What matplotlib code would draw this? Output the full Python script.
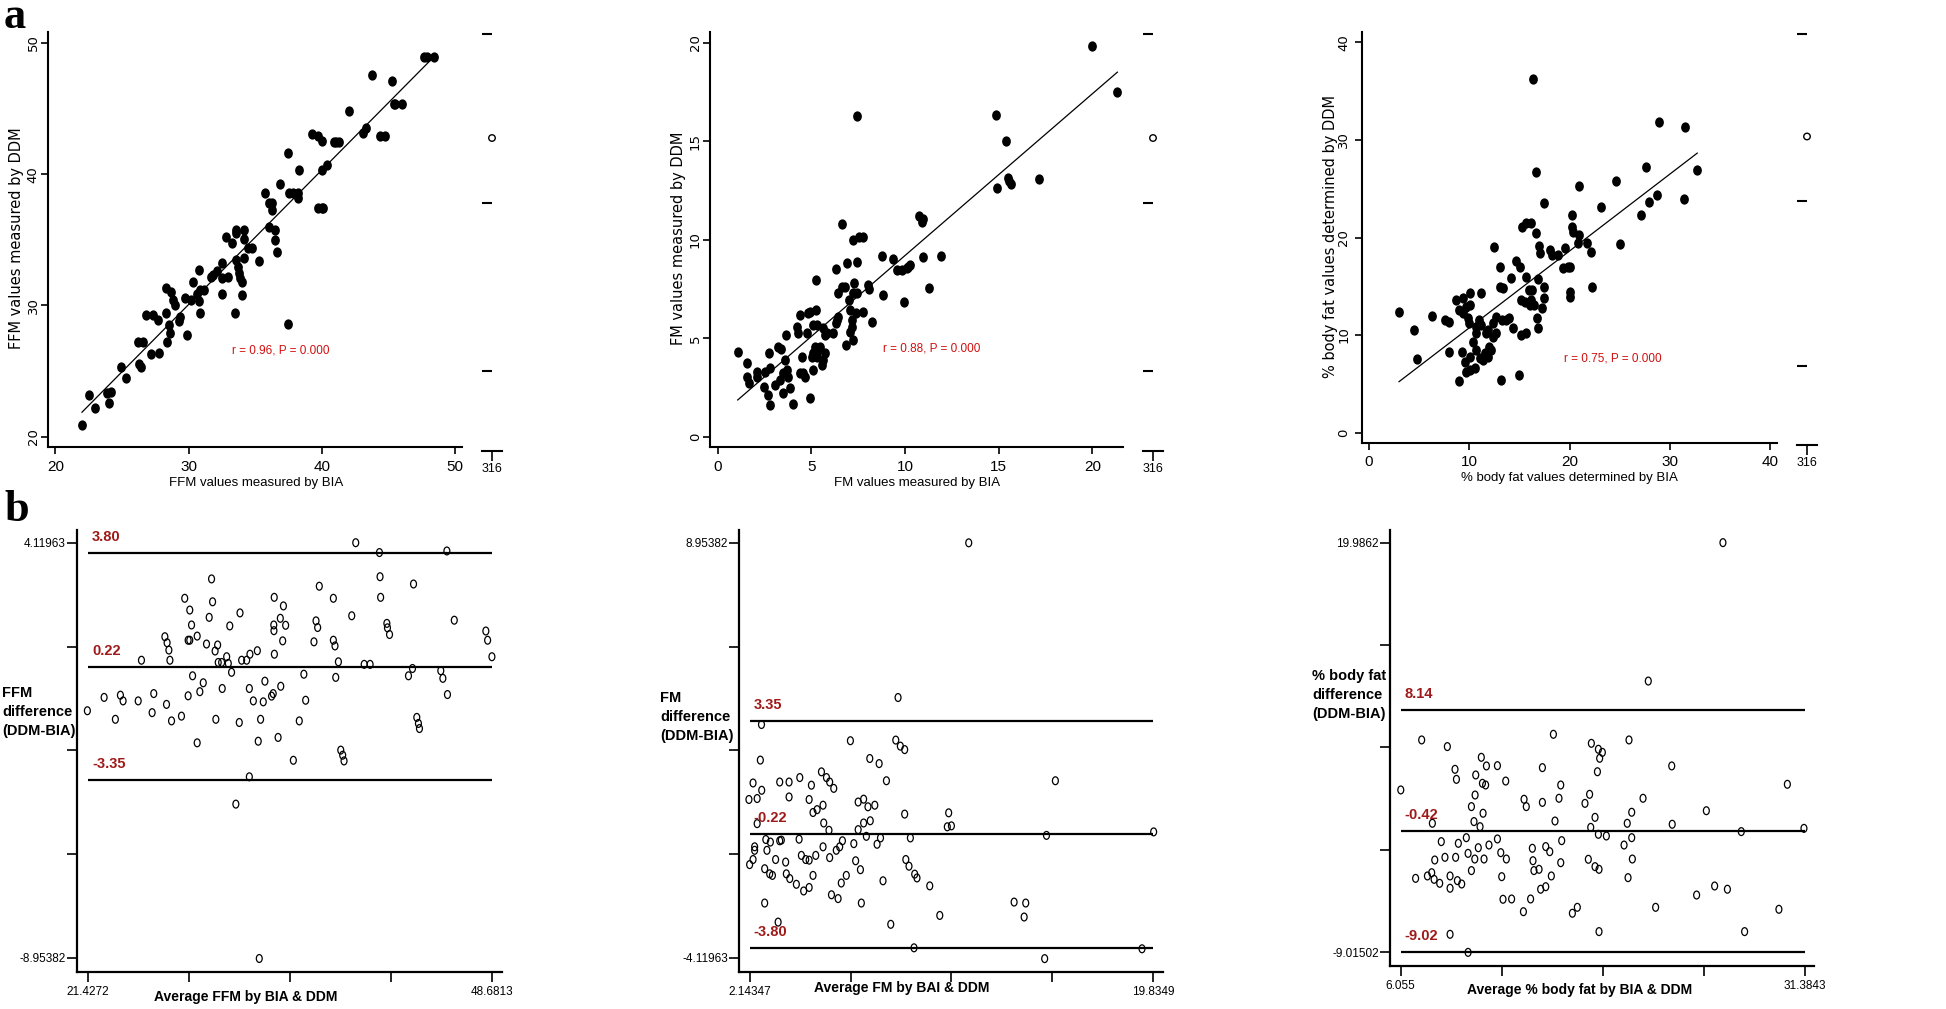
import numpy as np
import matplotlib
matplotlib.use("Agg")
import matplotlib.pyplot as plt
from matplotlib.path import Path
from matplotlib.transforms import Affine2D

# ---------------- Panel a: BIA vs DDM scatter data ----------------
ffm_bia = [22.0, 22.5, 23.0, 23.9, 24.2, 24.0, 24.9, 25.3, 26.2, 26.6,
           26.3, 26.4, 26.8, 27.3, 27.7, 27.2, 27.8, 28.3, 28.7, 28.85,
           29.0, 28.3, 28.5, 28.6, 28.4, 29.35, 29.3, 29.7, 29.9, 30.3,
           30.2, 30.6, 30.8, 30.85, 31.15, 30.8, 30.85, 31.65, 31.85, 32.1,
           32.5, 32.55, 32.55, 33.0, 32.85, 33.3, 33.6, 33.6, 34.15, 34.15,
           33.6, 33.7, 33.8, 33.85, 34.0, 34.0, 33.5, 34.2, 34.5, 34.75,
           35.3, 35.75, 36.05, 36.25, 36.25, 36.05, 36.5, 36.5, 36.65, 36.85,
           37.45, 37.55, 37.85, 38.2, 38.25, 38.3, 37.5, 39.25, 39.75, 40.0,
           40.0, 40.4, 39.75, 40.0, 40.1, 40.9, 41.1, 41.3, 42.05, 43.1,
           43.35, 43.75, 44.4, 44.75, 45.3, 45.4, 45.5, 46.0, 47.65, 47.9, 48.4]
ffm_ddm = [20.9, 23.2, 22.2, 23.3, 23.4, 22.6, 25.3, 24.5, 27.2, 27.2,
           25.5, 25.3, 29.3, 29.3, 28.9, 26.3, 26.35, 31.3, 31.05, 30.4,
           30.0, 29.4, 28.5, 27.9, 27.2, 29.15, 28.8, 30.55, 27.75, 31.8,
           30.4, 30.9, 32.7, 31.2, 31.2, 30.3, 29.4, 32.15, 32.3, 32.6,
           30.9, 32.1, 33.2, 32.2, 35.25, 34.75, 35.75, 35.5, 35.75, 35.1,
           33.5, 32.95, 32.45, 32.1, 31.8, 30.8, 29.4, 33.6, 34.35, 34.35,
           33.35, 38.55, 37.8, 37.8, 37.3, 36.0, 35.75, 35.0, 34.05, 39.25,
           41.6, 38.55, 38.55, 38.55, 38.2, 40.3, 28.6, 43.1, 42.9, 42.5,
           40.3, 40.7, 37.4, 37.4, 37.4, 42.45, 42.45, 42.45, 44.85, 43.15,
           43.5, 47.6, 42.95, 42.95, 47.1, 45.35, 45.35, 45.35, 48.9, 48.9, 48.9]

fm_bia = [1.07, 1.58, 1.58, 1.67, 2.08, 2.12, 2.52, 2.47, 2.70, 2.79,
          2.76, 2.79, 3.06, 3.24, 3.38, 3.59, 3.32, 3.50, 3.68, 3.77,
          3.50, 3.86, 3.63, 4.00, 4.21, 4.30, 4.39, 4.48, 4.57, 4.66,
          4.39, 4.75, 4.84, 4.92, 5.01, 5.10, 5.19, 5.10, 4.92, 5.10,
          5.23, 5.28, 5.28, 5.37, 5.46, 5.24, 5.55, 5.64, 5.72, 5.72,
          5.81, 5.64, 6.13, 6.31, 6.38, 6.44, 6.44, 6.31, 6.61, 6.79,
          6.65, 6.84, 6.88, 7.02, 7.06, 7.06, 7.15, 7.15, 7.24, 7.24,
          7.29, 7.20, 7.41, 7.41, 7.38, 7.45, 7.56, 7.73, 7.73, 8.04,
          8.07, 8.25, 8.78, 8.84, 9.37, 9.55, 9.81, 9.94, 10.08, 10.17,
          10.26, 10.76, 10.88, 10.97, 10.97, 11.29, 11.91, 14.84, 14.93, 15.36,
          15.50, 15.56, 15.63, 17.16, 20.00, 21.33]
fm_ddm = [4.32, 3.73, 3.05, 2.71, 3.30, 3.05, 3.30, 2.54, 2.12, 1.61,
          4.24, 3.47, 2.63, 4.58, 4.44, 3.90, 2.88, 3.22, 3.39, 3.05,
          2.20, 2.46, 5.17, 1.66, 5.59, 5.25, 6.19, 4.07, 3.22, 3.05,
          3.22, 5.25, 6.27, 6.36, 4.07, 4.24, 4.58, 3.39, 1.95, 5.68,
          6.44, 5.68, 4.07, 4.41, 4.58, 7.97, 3.65, 3.90, 4.24, 5.17,
          5.25, 5.51, 5.25, 5.76, 5.93, 6.10, 7.29, 8.51, 7.63, 7.63,
          10.81, 4.66, 8.85, 6.95, 6.44, 5.34, 5.59, 5.93, 4.92, 7.29,
          7.80, 10.00, 16.27, 8.90, 6.27, 7.29, 10.14, 10.17, 6.36, 7.71,
          7.49, 5.85, 9.19, 7.20, 9.02, 8.47, 8.47, 6.86, 8.56, 8.64,
          8.73, 11.19, 10.93, 11.05, 9.12, 7.54, 9.19, 16.36, 12.66, 15.03,
          13.14, 12.97, 12.85, 13.08, 19.83, 17.49]

pbf_bia = [2.99, 4.45, 4.82, 6.25, 7.61, 7.94, 7.94, 8.70, 9.37, 8.97,
           9.37, 9.70, 10.10, 9.87, 9.97, 10.10, 9.30, 9.53, 9.63, 10.03,
           10.10, 10.53, 8.97, 10.37, 10.70, 10.70, 10.70, 10.96, 11.20, 11.20,
           11.03, 11.36, 11.53, 11.69, 11.86, 11.96, 12.13, 11.86, 12.36, 12.62,
           12.62, 12.36, 12.43, 13.02, 13.02, 13.36, 13.29, 13.62, 13.95, 13.12,
           14.19, 14.35, 14.68, 15.02, 14.95, 15.18, 15.51, 15.68, 15.18, 15.28,
           15.68, 16.18, 16.61, 15.61, 15.91, 16.01, 16.28, 16.41, 16.18, 16.35,
           16.61, 16.74, 16.84, 16.84, 16.94, 17.08, 17.28, 17.41, 17.41, 17.44,
           18.00, 18.27, 18.84, 19.50, 19.34, 19.83, 20.07, 20.07, 20.07, 20.27,
           20.27, 20.33, 20.93, 20.93, 20.83, 21.73, 22.09, 22.26, 23.09, 24.65,
           24.98, 27.08, 27.64, 27.91, 28.74, 28.87, 31.36, 31.53, 32.72]
pbf_ddm = [12.39, 10.51, 7.50, 11.95, 11.54, 11.37, 8.22, 13.59, 13.76, 12.56,
           12.22, 12.90, 13.07, 11.71, 11.20, 14.34, 8.22, 7.26, 6.23, 7.77,
           6.40, 6.57, 5.28, 9.31, 8.46, 10.17, 10.85, 11.54, 11.03, 14.34,
           7.60, 7.43, 8.11, 10.17, 10.51, 8.80, 8.46, 7.77, 9.83, 10.17,
           11.88, 11.20, 18.99, 17.01, 14.89, 14.79, 11.54, 11.54, 11.71, 5.38,
           15.81, 10.68, 17.59, 17.01, 5.89, 13.59, 13.42, 10.17, 10.00, 21.11,
           21.46, 21.46, 20.43, 15.98, 14.62, 13.08, 14.62, 13.08, 13.59, 36.27,
           26.76, 11.71, 10.68, 15.71, 19.13, 18.38, 12.73, 13.76, 14.96, 23.58,
           18.72, 18.21, 18.21, 18.89, 16.84, 17.01, 17.01, 14.44, 13.93, 21.11,
           22.31, 20.60, 25.32, 20.26, 19.47, 19.47, 18.55, 14.89, 23.17, 25.84,
           19.30, 22.31, 27.27, 23.68, 24.33, 31.82, 23.92, 31.31, 26.93]

corr_labels = ["r = 0.96, P = 0.000", "r = 0.88, P = 0.000", "r = 0.75, P = 0.000"]
ffm_ticks = [20, 30, 40, 50]
fm_ticks = [0, 5, 10, 15, 20]
pbf_ticks = [0, 10, 20, 30, 40]
a_xlabels = ["FFM values measured by BIA", "FM values measured by BIA",
             "% body fat values determined by BIA"]
a_ylabels = ["FFM values measured by DDM", "FM values measured by DDM",
             "% body fat values determined by DDM"]
side_label = "316"
side_dash_pos = [0.995, 0.592, 0.191]
side_circle_pos = [0.747]

# ---------------- Panel b: Bland-Altman data ----------------
ffm_avg = [21.38, 22.51, 23.27, 23.61, 23.79, 24.81, 25.03, 25.75, 25.86, 26.61,
           26.76, 26.88, 26.95, 26.72, 27.06, 27.73, 27.95, 28.18, 28.29, 28.29,
           28.41, 28.48, 28.18, 28.79, 28.79, 28.97, 29.20, 29.42, 29.60, 29.76,
           29.83, 30.00, 30.17, 30.05, 30.21, 30.44, 30.78, 30.89, 31.11, 30.48,
           30.99, 31.68, 31.63, 31.79, 32.13, 32.35, 32.85, 32.31, 32.58, 32.91,
           33.07, 33.25, 33.36, 31.40, 32.31, 32.98, 33.81, 33.92, 33.96, 33.97,
           34.00, 33.99, 34.40, 34.43, 34.61, 34.56, 34.76, 34.25, 35.28, 35.68,
           35.99, 36.11, 36.67, 36.81, 36.92, 37.03, 37.98, 37.98, 38.09, 38.14,
           38.32, 38.48, 38.61, 38.70, 39.22, 39.49, 40.06, 40.46, 41.13, 41.17,
           41.09, 41.59, 41.63, 41.77, 43.05, 43.32, 43.39, 43.61, 43.72, 43.79,
           45.23, 45.37, 45.68, 45.64, 46.14, 48.27, 48.39, 48.68]
ffm_diff = [-1.17, -0.75, -1.44, -0.68, -0.86, -0.86, 0.42, -1.23, -0.63, 1.16,
            0.97, 0.74, 0.42, -0.97, -1.49, -1.34, 2.37, 1.05, 1.05, 2.00,
            1.53, -0.07, -0.70, 1.18, -2.18, -0.57, -0.29, 0.93, 1.77, 2.98,
            2.26, 0.71, 0.90, -1.44, 0.35, 0.35, 0.53, 0.32, 0.04, -0.47,
            1.50, 1.91, -1.54, 0.42, 0.42, 0.61, 0.72, -0.47, -0.86, -2.13,
            -1.44, -0.89, -0.24, -4.11, -3.25, -8.97, -0.71, -0.63, 1.53, 1.35,
            0.61, 2.40, 1.74, -0.40, 2.13, 1.03, 1.52, -2.01, -2.73, -1.49,
            -0.02, -0.84, 1.00, 1.66, 1.45, 2.75, 2.37, 1.05, 0.87, -0.12,
            0.37, -2.41, -2.57, -2.75, 1.82, 4.12, 0.29, 0.29, 3.05, 2.40,
            3.81, 1.58, 1.44, 1.23, -0.07, 0.16, 2.82, -1.38, -1.57, -1.73,
            0.09, -0.15, -0.66, 3.86, 1.68, 1.34, 1.05, 0.53]

fm_avg = [11.75, 8.65, 2.66, 2.61, 6.56, 8.55, 8.75, 8.94, 7.41, 7.82,
          8.14, 15.55, 2.29, 2.67, 2.11, 2.47, 3.46, 3.87, 3.87, 4.34,
          4.85, 4.75, 5.29, 5.51, 5.65, 5.83, 4.92, 5.10, 5.36, 5.39,
          5.62, 6.90, 7.14, 7.33, 7.63, 7.14, 7.43, 6.90, 8.94, 10.87,
          10.81, 10.99, 15.16, 19.86, 2.47, 2.85, 3.05, 3.46, 3.53, 4.31,
          2.36, 2.36, 2.90, 3.28, 2.14, 2.29, 3.72, 4.41, 4.60, 4.75,
          5.04, 5.36, 5.65, 5.94, 6.09, 6.21, 6.71, 6.79, 7.00, 7.26,
          7.73, 7.88, 9.19, 2.80, 3.02, 3.14, 3.75, 3.90, 4.19, 4.51,
          4.75, 4.92, 5.73, 6.02, 6.16, 6.38, 7.04, 7.99, 8.99, 9.13,
          9.38, 9.48, 10.04, 2.80, 3.39, 8.33, 10.48, 13.74, 14.25, 14.18,
          9.35, 15.08, 19.35]
fm_diff = [8.95, 4.08, 3.23, 2.11, 2.72, 2.74, 2.55, 2.44, 2.16, 2.00,
           1.46, 1.46, 1.39, 1.16, 0.87, 0.90, 1.42, 1.42, 0.95, 1.56,
           1.32, 0.87, 1.74, 1.56, 1.42, 1.22, 0.46, 0.55, 0.69, 0.13,
           -0.10, 0.79, 0.88, 0.64, 0.69, 0.13, 0.20, -0.08, 0.41, 0.45,
           0.01, 0.04, -0.26, -0.15, 0.11, -0.39, -0.47, -0.43, -0.41, -0.38,
           -0.62, -0.73, -0.73, -1.02, -1.18, -1.02, -1.10, -0.89, -1.02, -1.04,
           -0.89, -0.62, -0.96, -0.73, -0.62, -0.43, -0.52, -1.06, -1.34, -0.29,
           -0.54, -0.34, -0.34, -1.31, -1.47, -1.52, -1.47, -1.62, -1.80, -2.01,
           -1.90, -1.52, -2.13, -2.25, -1.76, -1.52, -2.39, -1.69, -1.02, -1.23,
           -1.48, -1.60, -1.85, -2.39, -2.99, -3.06, -2.78, -2.36, -2.39, -2.83,
           -3.80, -4.14, -3.83]

pbf_avg = [26.26, 21.58, 6.06, 7.37, 8.98, 9.46, 9.55, 11.11, 11.43, 12.12,
           10.76, 11.18, 11.38, 10.72, 10.49, 11.22, 10.65, 11.03, 12.64, 15.63,
           14.94, 18.01, 18.45, 18.53, 18.70, 18.39, 20.37, 23.05, 30.30, 16.09,
           13.79, 13.93, 14.94, 15.98, 17.61, 17.90, 21.25, 25.22, 20.54, 18.24,
           15.73, 20.26, 23.08, 17.97, 27.41, 31.34, 8.04, 18.45, 18.95, 8.60,
           9.67, 10.17, 12.12, 10.92, 11.59, 10.28, 10.70, 11.28, 8.83, 9.50,
           8.19, 12.33, 12.68, 14.31, 14.35, 15.15, 15.40, 16.15, 16.09, 20.06,
           20.54, 20.58, 17.82, 18.24, 18.49, 10.49, 14.41, 14.73, 6.99, 7.73,
           8.00, 8.15, 8.50, 9.15, 9.15, 9.61, 9.88, 12.39, 15.50, 15.15,
           14.83, 20.31, 24.61, 25.74, 26.54, 12.47, 13.01, 14.20, 13.75, 16.82,
           17.13, 22.04, 29.77, 9.15, 18.49, 27.62, 10.28]
pbf_diff = [19.99, 10.19, 2.48, 6.02, 5.55, 3.94, 3.23, 4.79, 4.18, 4.20,
            3.54, 2.95, 2.83, 2.12, 1.30, 0.83, 0.24, -0.12, 3.11, 6.42,
            4.06, 5.78, 5.36, 4.72, 5.14, 3.77, 6.02, 4.18, 2.88, 2.83,
            1.82, 1.30, 1.60, 1.89, 1.53, 2.17, 1.89, 1.01, 0.90, 0.54,
            0.28, 0.12, 0.05, -0.17, -0.47, -0.24, 0.12, -0.66, -0.78, -1.18,
            -1.30, -0.90, -0.99, -1.61, -1.42, -2.01, -2.41, -2.41, -2.29, -2.29,
            -2.48, -1.96, -2.41, -1.65, -2.53, -1.53, -1.89, -1.11, -2.67, -1.42,
            -0.90, -2.41, -2.43, -2.95, -3.14, -3.23, -3.23, -3.14, -3.78, -3.61,
            -3.38, -3.85, -4.13, -3.61, -4.48, -3.94, -4.18, -3.66, -3.61, -4.37,
            -4.55, -3.73, -4.96, -4.32, -4.55, -5.26, -5.24, -5.24, -6.14, -6.25,
            -5.83, -5.83, -5.97, -7.74, -7.55, -7.55, -9.02]

ffm_loa = [3.80, 0.22, -3.35]
fm_loa = [3.35, -0.22, -3.80]
pbf_loa = [8.14, -0.42, -9.02]
ffm_loa_labels = ["3.80", "0.22", "-3.35"]
fm_loa_labels = ["3.35", "-0.22", "-3.80"]
pbf_loa_labels = ["8.14", "-0.42", "-9.02"]
ffm_avg_ticklabels = ["21.4272", "48.6813"]
fm_avg_ticklabels = ["2.14347", "19.8349"]
pbf_avg_ticklabels = ["6.055", "31.3843"]
ffm_diff_ticklabels = ["-8.95382", "4.11963"]
fm_diff_ticklabels = ["-4.11963", "8.95382"]
pbf_diff_ticklabels = ["-9.01502", "19.9862"]
b_xlabels = ["Average FFM by BIA & DDM", "Average FM by BAI & DDM",
             "Average % body fat by BIA & DDM"]
b_ylabels = ["FFM\ndifference\n(DDM-BIA)", "FM\ndifference\n(DDM-BIA)",
             "% body fat\ndifference\n(DDM-BIA)"]

# ---------------- Figure ----------------
W, H = 1946, 1009
fig = plt.figure(figsize=(W / 100, H / 100), dpi=100)
SANS = ["Liberation Sans", "DejaVu Sans"]
RED = "#d01010"
DARKRED = "#9e1a1a"

circ = Path.unit_circle()
dot_marker = circ.transformed(Affine2D().scale(0.85, 1.0))
ring_marker = circ.transformed(Affine2D().scale(0.75, 1.0))


def box(l, t, r, b):
    return [l / W, 1 - b / H, (r - l) / W, (b - t) / H]


def fx(x):
    return x / W


def fy(y):
    return 1 - y / H


def scatter_panel(rect, x, y, xlim, ylim, ticks, note, note_xy, ypad):
    ax = fig.add_axes(box(*rect))
    ax.scatter(x, y, s=55, marker=dot_marker, c="black", linewidths=0)
    slope, icpt = np.polyfit(x, y, 1)
    xs = np.array([min(x), max(x)])
    ax.plot(xs, icpt + slope * xs, color="black", lw=0.9)
    ax.set_xlim(*xlim)
    ax.set_ylim(*ylim)
    for s in ("top", "right"):
        ax.spines[s].set_visible(False)
    for s in ("left", "bottom"):
        ax.spines[s].set_linewidth(1.5)
    ax.set_xticks(ticks)
    ax.set_yticks(ticks)
    ax.tick_params(direction="out", length=5, width=1.2)
    ax.tick_params(axis="x", labelsize=11, pad=4, labelfontfamily=SANS)
    ax.tick_params(axis="y", labelsize=9.5, pad=ypad, labelrotation=90,
                   labelfontfamily="DejaVu Sans")
    for t in ax.get_yticklabels():
        t.set_va("center")
    ax.text(note_xy[0], note_xy[1], note, color=RED, fontsize=8.5,
            family=SANS, ha="left", va="center")
    return ax


def side_panel(rect):
    ax = fig.add_axes(box(*rect))
    ax.set_xlim(0, 2)
    ax.set_ylim(0, 1)
    ax.hlines(side_dash_pos, 0, 1, color="black", lw=1.5)
    ax.scatter([1] * len(side_circle_pos), side_circle_pos, s=22,
               facecolors="none", edgecolors="black", linewidths=1.0)
    for s in ("top", "right", "left"):
        ax.spines[s].set_visible(False)
    ax.spines["bottom"].set_linewidth(1.5)
    ax.set_yticks([])
    ax.set_xticks([1])
    ax.set_xticklabels([side_label])
    ax.tick_params(axis="x", direction="out", length=7, width=1.2,
                   labelsize=9, pad=2, labelfontfamily=SANS)
    ax.patch.set_alpha(0)
    return ax


def ba_panel(rect, x, y, xlim, ylim, xtl, ytl, loa, loa_labels):
    ax = fig.add_axes(box(*rect))
    ax.scatter(x, y, s=32, marker=ring_marker, facecolors="none",
               edgecolors="black", linewidths=0.9)
    x0, x1 = float(xtl[0]), float(xtl[1])
    ax.hlines(loa, x0, x1, color="black", lw=1.6)
    for v, lab in zip(loa, loa_labels):
        ax.annotate(lab, (x0, v), xytext=(4, 9), textcoords="offset pixels",
                    color=DARKRED, fontsize=10.5, fontweight="bold",
                    family=SANS, ha="left", va="bottom")
    ax.set_xlim(*xlim)
    ax.set_ylim(*ylim)
    ax.set_xticks(np.linspace(x0, x1, 5))
    ax.set_xticklabels([xtl[0], "", "", "", xtl[1]])
    y0, y1 = float(ytl[0]), float(ytl[1])
    ax.set_yticks(np.linspace(y0, y1, 5))
    ax.set_yticklabels([ytl[0], "", "", "", ytl[1]])
    for s in ("top", "right"):
        ax.spines[s].set_visible(False)
    for s in ("left", "bottom"):
        ax.spines[s].set_linewidth(1.6)
    ax.tick_params(direction="out", length=7, width=1.2, labelsize=8.5,
                   labelfontfamily=SANS)
    ax.tick_params(axis="x", pad=3)
    ax.tick_params(axis="y", pad=1)
    return ax


# Panel a
scatter_panel((48, 32, 462, 447), ffm_bia, ffm_ddm, (19.45, 50.53), (19.21, 50.84),
              ffm_ticks, corr_labels[0], (33.23, 26.6), 1.0)
scatter_panel((710, 32, 1123, 447), fm_bia, fm_ddm, (-0.41, 21.63), (-0.52, 20.56),
              fm_ticks, corr_labels[1], (8.83, 4.46), 1.0)
scatter_panel((1362, 32, 1777, 443), pbf_bia, pbf_ddm, (-0.7, 40.67), (-1.07, 41.07),
              pbf_ticks, corr_labels[2], (19.44, 7.63), 3.5)
side_panel((482, 32, 502, 451))
side_panel((1143, 32, 1163, 451))
side_panel((1797, 32, 1817, 445))

for lab, (px, py) in zip(a_xlabels, [(255.8, 483), (917.5, 483), (1569.3, 478)]):
    fig.text(fx(px), fy(py), lab, ha="center", va="center", fontsize=9.5,
             family=SANS)
for lab, (px, py) in zip(a_ylabels, [(17, 238), (679, 238), (1331, 236)]):
    fig.text(fx(px), fy(py), lab, ha="center", va="center", fontsize=10.5,
             rotation=90, family="DejaVu Sans")

# Panel b
ba_panel((77, 530, 502, 972), ffm_avg, ffm_diff, (20.68, 49.36), (-9.395, 4.52),
         ffm_avg_ticklabels, ffm_diff_ticklabels, ffm_loa, ffm_loa_labels)
ba_panel((739, 530, 1163, 972), fm_avg, fm_diff, (1.674, 20.27), (-4.561, 9.354),
         fm_avg_ticklabels, fm_diff_ticklabels, fm_loa, fm_loa_labels)
ba_panel((1390, 530, 1814, 966), pbf_avg, pbf_diff, (5.384, 31.97), (-9.985, 20.885),
         pbf_avg_ticklabels, pbf_diff_ticklabels, pbf_loa, pbf_loa_labels)

for lab, (px, py) in zip(b_ylabels, [(2, 712), (660, 717), (1312, 695)]):
    fig.text(fx(px), fy(py), lab, ha="left", va="center", fontsize=10.5,
             fontweight="bold", family=SANS, linespacing=1.45)
for lab, (px, py) in zip(b_xlabels, [(246, 997), (901.7, 988), (1579.3, 990)]):
    fig.text(fx(px), fy(py), lab, ha="center", va="center", fontsize=10,
             fontweight="bold", family=SANS)

# Panel letters
fig.text(fx(4), fy(28), "a", fontsize=32, fontweight="bold",
         family=["Liberation Serif", "DejaVu Serif"], ha="left", va="baseline")
fig.text(fx(4), fy(521), "b", fontsize=32, fontweight="bold",
         family=["Liberation Serif", "DejaVu Serif"], ha="left", va="baseline")

fig.savefig("out.png", dpi=100)
